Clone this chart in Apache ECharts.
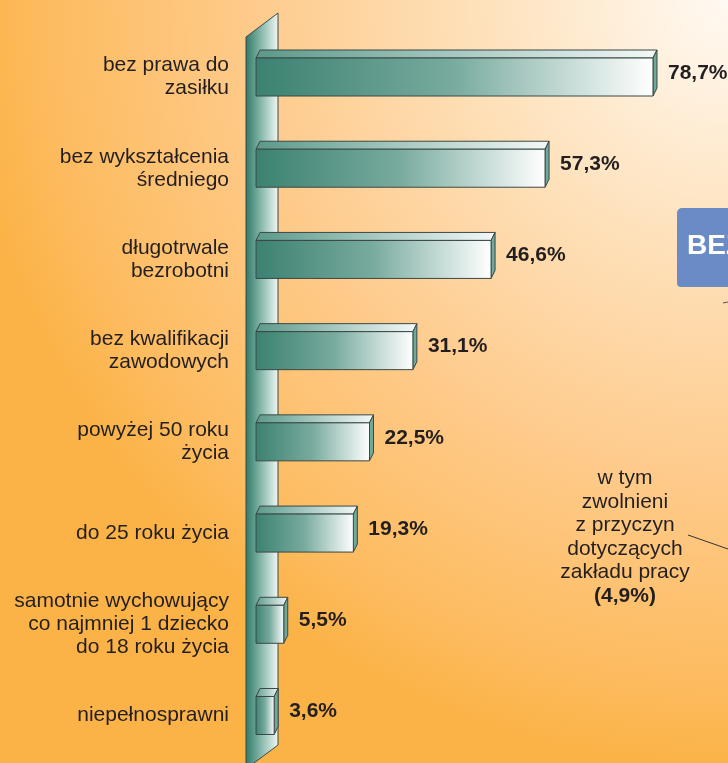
<!DOCTYPE html>
<html>
<head>
<meta charset="utf-8">
<script src="https://cdn.jsdelivr.net/npm/echarts@6/dist/echarts.min.js"></script>
<style>
  html, body { margin: 0; padding: 0; }
  #main { width: 728px; height: 763px; }
</style>
</head>
<body>
<div id="main"></div>
<script>
// kategorie i wartości (%)
const categories = [
  "bez prawa do\nzasiłku",
  "bez wykształcenia\nśredniego",
  "długotrwale\nbezrobotni",
  "bez kwalifikacji\nzawodowych",
  "powyżej 50 roku\nżycia",
  "do 25 roku życia",
  "samotnie wychowujący\nco najmniej 1 dziecko\ndo 18 roku życia",
  "niepełnosprawni",
]
const values = [78.7, 57.3, 46.6, 31.1, 22.5, 19.3, 5.5, 3.6]
const noteLines = ["w tym", "zwolnieni", "z przyczyn", "dotyczących", "zakładu pracy"]
const noteValue = "(4,9%)"

const FONT = "'Liberation Sans', Arial, sans-serif"
const fmt = (v) => v.toFixed(1).replace(".", ",") + "%"

const chart = echarts.init(document.getElementById("main"))

// słupek 3D: przód + góra + bok
function renderBar(params, api) {
  const idx = api.value(1)
  const v = api.value(0)
  const start = api.coord([0, idx])
  const end = api.coord([v, idx])
  const h = 38, dx = 4, dy = 8
  const x0 = start[0], x1 = end[0]
  const yT = start[1] - h / 2, yB = start[1] + h / 2
  const stroke = { stroke: "#3b4845", lineWidth: 1 }
  return {
    type: "group",
    children: [
      {
        type: "polygon",
        shape: { points: [[x0, yT], [x0 + dx, yT - dy], [x1 + dx, yT - dy], [x1, yT]] },
        style: Object.assign({
          fill: new echarts.graphic.LinearGradient(0, 0, 1, 0, [
            { offset: 0, color: "#5b998a" },
            { offset: 1, color: "#f4f9f8" },
          ]),
        }, stroke),
      },
      {
        type: "polygon",
        shape: { points: [[x1, yT], [x1 + dx, yT - dy], [x1 + dx, yB - dy], [x1, yB]] },
        style: Object.assign({ fill: "#6fa99b" }, stroke),
      },
      {
        type: "rect",
        shape: { x: x0, y: yT, width: x1 - x0, height: h },
        style: Object.assign({
          fill: new echarts.graphic.LinearGradient(0, 0, 1, 0, [
            { offset: 0, color: "#3b8171" },
            { offset: 0.5, color: "#79ab9f" },
            { offset: 1, color: "#ffffff" },
          ]),
        }, stroke),
      },
      {
        type: "text",
        style: {
          text: fmt(v),
          x: x1 + 15,
          y: start[1] - 4,
          textVerticalAlign: "middle",
          textAlign: "left",
          fill: "#231f20",
          font: "bold 21px " + FONT,
        },
      },
    ],
  }
}

const option = {
  animation: false,
  backgroundColor: new echarts.graphic.RadialGradient(1, 0, 1.05, [
    { offset: 0, color: "#fffaf3" },
    { offset: 0.3, color: "#fee3bf" },
    { offset: 0.62, color: "#fecb8c" },
    { offset: 0.9, color: "#fdbb5e" },
    { offset: 1, color: "#fbb347" },
  ]),
  grid: { left: 256, right: 18, top: 31.4, bottom: 1.9 },
  xAxis: { type: "value", min: 0, max: 90, show: false },
  yAxis: {
    type: "category",
    inverse: true,
    data: categories,
    axisLine: { show: false },
    axisTick: { show: false },
    splitLine: { show: false },
    axisLabel: {
      interval: 0,
      margin: 27,
      color: "#231f20",
      fontFamily: FONT,
      fontSize: 21,
      lineHeight: 23,
    },
  },
  graphic: [
    // słup (ściana)
    {
      type: "polygon",
      z: 0,
      shape: { points: [[246, 37], [278, 13], [278, 745], [246, 769]] },
      style: {
        fill: new echarts.graphic.LinearGradient(0, 0, 1, 0, [
          { offset: 0, color: "#2f7866" },
          { offset: 0.5, color: "#8dbcb0" },
          { offset: 1, color: "#f2f8f6" },
        ]),
        stroke: "#3b4845",
        lineWidth: 1,
      },
    },
    // niebieski walec
    {
      type: "rect",
      z: 0,
      shape: { x: 677, y: 208, width: 80, height: 79, r: [5, 0, 0, 4] },
      style: { fill: "#6b8bc7" },
    },
    {
      type: "text",
      z: 1,
      style: {
        text: "BEZROBOTNI",
        x: 687,
        y: 246,
        textVerticalAlign: "middle",
        fill: "#ffffff",
        font: "bold 28px " + FONT,
      },
    },
    { type: "line", z: 0, shape: { x1: 723, y1: 303, x2: 728, y2: 302 }, style: { stroke: "#555", lineWidth: 1 } },
    { type: "line", z: 0, shape: { x1: 688, y1: 535, x2: 728, y2: 549 }, style: { stroke: "#333", lineWidth: 1 } },
    {
      type: "text",
      z: 1,
      style: {
        text: noteLines.join("\n") + "\n{b|" + noteValue + "}",
        x: 625,
        y: 537,
        textAlign: "center",
        textVerticalAlign: "middle",
        fill: "#231f20",
        font: "21px " + FONT,
        lineHeight: 23.5,
        rich: {
          b: { font: "bold 21px " + FONT, fill: "#231f20", lineHeight: 23.5 },
        },
      },
    },
  ],
  series: [
    {
      type: "custom",
      z: 3,
      renderItem: renderBar,
      encode: { x: 0, y: 1 },
      data: values.map((v, i) => [v, i]),
    },
  ],
}

option && chart.setOption(option)
</script>
</body>
</html>
